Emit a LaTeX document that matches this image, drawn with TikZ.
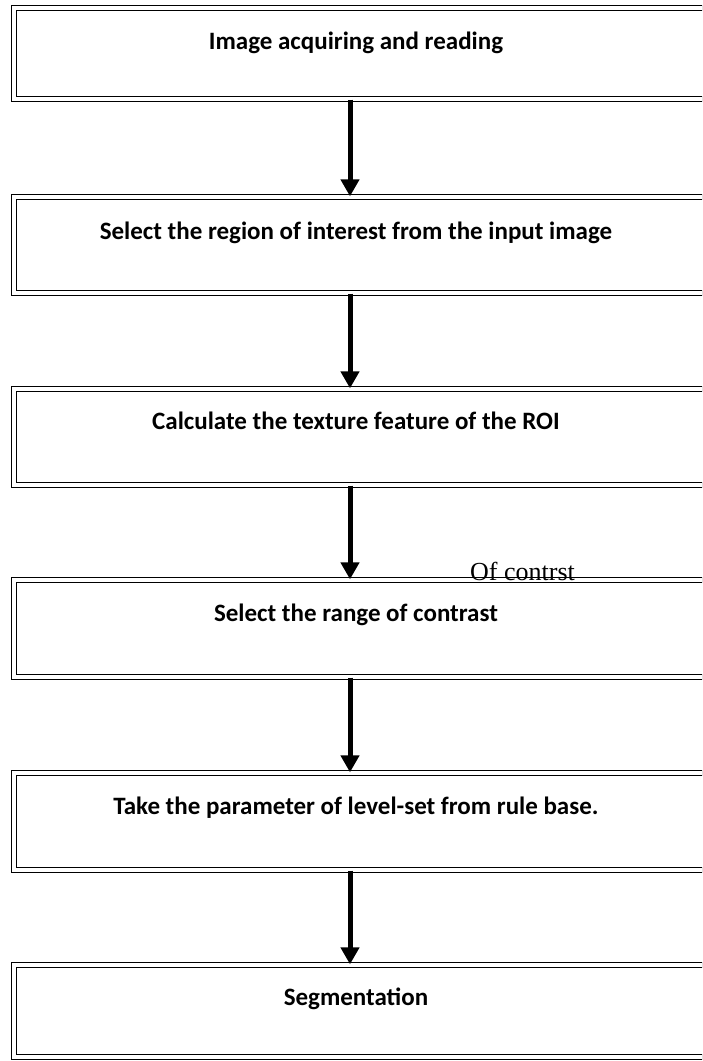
\documentclass[tikz,border=0pt]{standalone}
\usepackage{fontspec}
\setmainfont{Carlito}
\newfontfamily\timesfont{Liberation Serif}
\usetikzlibrary{arrows.meta,positioning}

\tikzset{
  stepbox/.style={draw, double, line width=1.3pt, double distance=3.8pt,
    rectangle, minimum width=726pt, minimum height=#1, inner sep=0pt},
  steptext/.style={font=\fontsize{25}{28}\selectfont\bfseries, inner sep=0pt,
    anchor=base},
  flow/.style={line width=5pt, -{Triangle[width=18pt,length=17pt]}}
}

\begin{document}
\begin{tikzpicture}[x=1pt, y=-1pt]

% ── Lienzo ────────────────────────────────────────────────────
\useasboundingbox (0,0) rectangle (702,1061);
\clip (0,0) rectangle (702,1061);
\coordinate (ax) at (350,0);

% ── Cajas ─────────────────────────────────────────────────────
\node[stepbox=91pt] (box1) at (377, 53.5) {};
\node[stepbox=96pt] (box2) at (377, 245) {};
\node[stepbox=96pt] (box3) at (377, 437) {};
\node[stepbox=97pt] (box4) at (377, 628.5) {};
\node[stepbox=97pt] (box5) at (377, 821.5) {};
\node[stepbox=92pt] (box6) at (377, 1011) {};

% ── Textos ────────────────────────────────────────────────────
\node[steptext] (t1) at (356, 49)   {Image acquiring and reading};
\node[steptext] (t2) at (356, 239)  {Select the region of interest from the input image};
\node[steptext] (t3) at (356, 429)  {Calculate the texture feature of the ROI};
\node[steptext] (t4) at (356, 621)  {Select the range of contrast};
\node[steptext] (t5) at (356, 814)  {Take the parameter of level-set from rule base.};
\node[steptext] (t6) at (356, 1005) {Segmentation};

% nota suelta
\node[anchor=base west, inner sep=0pt, font=\timesfont\fontsize{26}{28}\selectfont]
  (note) at (470, 580) {Of contrst};

% ── Flechas ───────────────────────────────────────────────────
\draw[flow] (ax |- box1.south) -- (ax |- box2.north);
\draw[flow] (ax |- box2.south) -- (ax |- box3.north);
\draw[flow] (ax |- box3.south) -- (ax |- box4.north);
\draw[flow] (ax |- box4.south) -- (ax |- box5.north);
\draw[flow] (ax |- box5.south) -- (ax |- box6.north);

\end{tikzpicture}
\end{document}
